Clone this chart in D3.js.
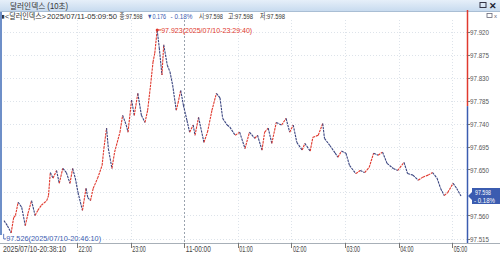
<!DOCTYPE html>
<html>
<head>
<meta charset="utf-8">
<script src="https://cdn.jsdelivr.net/npm/d3@7"></script>
<style>
  html, body { margin: 0; padding: 0; background: #fff; }
  svg { display: block; }
  text { font-family: "Liberation Sans", Arial, "Noto Sans CJK KR", sans-serif; }
</style>
</head>
<body>
<div id="chart"></div>
<script>
// 10-second dollar index
const times = [
  "20:38:10","20:42","20:46:10","20:49","20:51","20:54","20:58","21:02","21:05","21:09",
  "21:13","21:16","21:20","21:26","21:28","21:30","21:33","21:37","21:40","21:44",
  "21:48","21:52","21:55","21:58","22:01","22:06","22:10","22:12","22:15","22:18",
  "22:23","22:28","22:30","22:33","22:35","22:39","22:42","22:48","22:51","22:55",
  "22:57","23:01","23:04","23:08","23:12","23:16","23:19","23:22","23:25","23:27",
  "23:29:40","23:32","23:35","23:37","23:41","23:44","23:47","23:51","23:53","23:56",
  "23:59","00:03","00:06","00:10","00:12","00:16","00:22","00:26","00:31","00:36",
  "00:40","00:43","00:48","00:51","00:57","01:02","01:08","01:13","01:19","01:22",
  "01:27","01:30","01:34","01:38","01:43","01:49","01:54","01:58","02:02","02:06",
  "02:12","02:15","02:21","02:24","02:30","02:35","02:37","02:43","02:49","02:52",
  "02:56","03:01","03:05","03:12","03:17","03:22","03:27","03:32","03:37","03:42",
  "03:47","03:54","03:59","04:06","04:10","04:16","04:22","04:27","04:33","04:38",
  "04:43","04:47","04:51","04:55","05:01","05:05","05:09:50"
];
const prices = [
  97.550,97.540,97.526,97.556,97.560,97.586,97.576,97.540,97.564,97.589,
  97.560,97.570,97.580,97.589,97.599,97.644,97.633,97.648,97.623,97.652,
  97.644,97.623,97.652,97.633,97.605,97.570,97.613,97.595,97.589,97.613,
  97.633,97.658,97.691,97.731,97.691,97.652,97.684,97.723,97.756,97.737,
  97.723,97.786,97.756,97.799,97.756,97.742,97.766,97.811,97.860,97.878,
  97.923,97.888,97.835,97.894,97.854,97.841,97.815,97.766,97.780,97.805,
  97.776,97.746,97.723,97.737,97.717,97.752,97.703,97.723,97.766,97.799,
  97.790,97.750,97.737,97.733,97.717,97.723,97.691,97.723,97.711,97.717,
  97.688,97.723,97.731,97.701,97.742,97.737,97.750,97.723,97.737,97.703,
  97.688,97.701,97.686,97.713,97.717,97.740,97.711,97.697,97.682,97.674,
  97.686,97.682,97.658,97.642,97.648,97.644,97.654,97.682,97.678,97.684,
  97.662,97.652,97.648,97.664,97.642,97.639,97.629,97.635,97.639,97.644,
  97.633,97.613,97.599,97.605,97.623,97.613,97.598
];
const yTicks = [97.515, 97.560, 97.605, 97.650, 97.695, 97.740, 97.785, 97.830, 97.875, 97.920];
const hourTicks = ["22:00","23:00","00:00","01:00","02:00","03:00","04:00","05:00"];
const prevClose = 97.774;
const lastChange = "▼0.176";
const lastPct = "- 0.18%";

const W = 500, H = 254;
const plot = { left: 4, right: 467, top: 20, bottom: 243 };
const RED = '#e0392e', BLUE = '#3b5cb0', NAVY = '#3a4580';

// times after midnight belong to 07/11
function parseT(s) {
  const p = s.split(':').map(Number);
  const day = p[0] < 12 ? 11 : 10;
  return new Date(2025, 6, day, p[0], p[1], p[2] || 0);
}
const data = times.map((t, i) => ({ t: parseT(t), v: prices[i] }));

// squeeze text to the narrow width of the original font
function fit(sel, w) {
  return sel.attr('textLength', w).attr('lengthAdjust', 'spacingAndGlyphs');
}

const svg = d3.select('#chart').append('svg')
  .attr('width', W).attr('height', H);

const x = d3.scaleTime()
  .domain([data[0].t, data[data.length - 1].t])
  .range([plot.left, 461]);
const y = d3.scaleLinear()
  .domain([97.515, 97.920])
  .range([238.5, 31.5]);

// title bar
const grad = svg.append('defs').append('linearGradient')
  .attr('id', 'tb').attr('x1', 0).attr('x2', 0).attr('y1', 0).attr('y2', 1);
grad.append('stop').attr('offset', 0).attr('stop-color', '#e6eff9');
grad.append('stop').attr('offset', 1).attr('stop-color', '#c8dbef');
svg.append('rect').attr('x', 0).attr('y', 0).attr('width', W).attr('height', 11)
  .attr('fill', 'url(#tb)');
svg.append('line').attr('x1', 0).attr('x2', W).attr('y1', 11.5).attr('y2', 11.5)
  .attr('stroke', '#a9bed4');
fit(svg.append('text').attr('x', 10).attr('y', 9)
  .style('font-size', '8.5px').attr('fill', '#333')
  .text('달러인덱스 (10초)'), 58);
svg.append('rect').attr('x', 480).attr('y', 2.5).attr('width', 6).attr('height', 5)
  .attr('fill', 'none').attr('stroke', '#334').attr('stroke-width', 1);
svg.append('text').attr('x', 489).attr('y', 9)
  .style('font-size', '9px').style('font-weight', 'bold').attr('fill', '#223')
  .text('✕');

// info line
const infoParts = [
  ['■', 0.5, 4, '#333'],
  ['<달러인덱스>', 5, 41, '#333'],
  ['2025/07/11-05:09:50', 47, 70, '#333'],
  ['종:97.598', 119.5, 23, '#333'],
  [lastChange, 147, 19, BLUE],
  [lastPct, 170.5, 22, BLUE],
  ['시:97.598', 199, 24, '#333'],
  ['고:97.598', 228, 25, '#333'],
  ['저:97.598', 260, 25, '#333']
];
infoParts.forEach(([s, px, w, c]) => {
  fit(svg.append('text').attr('x', px).attr('y', 18.5)
    .style('font-size', '7.5px').attr('fill', c).text(s), w);
});
svg.append('rect').attr('x', 487).attr('y', 13.5).attr('width', 5).attr('height', 4)
  .attr('fill', 'none').attr('stroke', '#667').attr('stroke-width', 0.8);
svg.append('text').attr('x', 494).attr('y', 18)
  .style('font-size', '6px').attr('fill', '#667').text('x');

// grid
svg.append('g').selectAll('line').data(yTicks).join('line')
  .attr('x1', plot.left).attr('x2', plot.right)
  .attr('y1', d => Math.round(y(d)) + 0.5).attr('y2', d => Math.round(y(d)) + 0.5)
  .attr('stroke', '#dde3ea').attr('stroke-dasharray', '1,2');
svg.append('g').selectAll('line').data(hourTicks).join('line')
  .attr('x1', d => Math.round(x(parseT(d))) + 0.5).attr('x2', d => Math.round(x(parseT(d))) + 0.5)
  .attr('y1', plot.top).attr('y2', plot.bottom)
  .attr('stroke', d => d === '00:00' ? '#9aa3ae' : '#dde3ea')
  .attr('stroke-dasharray', d => d === '00:00' ? '2,2' : '1,2');

// left edge bar
svg.append('rect').attr('x', 0).attr('y', 12).attr('width', 2).attr('height', 223)
  .attr('fill', '#6e8fc8');

// price path: segments coloured by direction
const segs = d3.pairs(data);
svg.append('g').selectAll('line').data(segs).join('line')
  .attr('x1', d => x(d[0].t)).attr('y1', d => y(d[0].v))
  .attr('x2', d => x(d[1].t)).attr('y2', d => y(d[1].v))
  .attr('stroke', d => d[1].v >= d[0].v ? RED : NAVY)
  .attr('stroke-width', 1.1)
  .attr('stroke-dasharray', '2.5,0.8');

// right axis line: red above previous close, blue below
svg.append('line').attr('x1', plot.right + 0.5).attr('x2', plot.right + 0.5)
  .attr('y1', 10).attr('y2', y(prevClose)).attr('stroke', RED).attr('stroke-width', 1.5);
svg.append('line').attr('x1', plot.right + 0.5).attr('x2', plot.right + 0.5)
  .attr('y1', y(prevClose)).attr('y2', plot.bottom).attr('stroke', BLUE).attr('stroke-width', 1.5);

// current price badge position, labels under it are hidden
const last = data[data.length - 1];
const by = y(last.v);
const shownY = yTicks.filter(d => Math.abs(y(d) - by) > 9);

// y axis labels
const yAx = svg.append('g');
yAx.selectAll('line').data(shownY).join('line')
  .attr('x1', plot.right + 1).attr('x2', plot.right + 3)
  .attr('y1', d => Math.round(y(d)) + 0.5).attr('y2', d => Math.round(y(d)) + 0.5)
  .attr('stroke', '#777');
fit(yAx.selectAll('text').data(shownY).join('text')
  .attr('x', 470).attr('y', d => y(d) + 3)
  .style('font-size', '8px').attr('fill', '#555')
  .text(d => d3.format('.3f')(d)), 19);

// x axis
svg.append('line').attr('x1', 0).attr('x2', W).attr('y1', plot.bottom + 0.5).attr('y2', plot.bottom + 0.5)
  .attr('stroke', '#a8b0b8');
const xAx = svg.append('g');
xAx.selectAll('line').data(hourTicks).join('line')
  .attr('x1', d => Math.round(x(parseT(d))) + 0.5).attr('x2', d => Math.round(x(parseT(d))) + 0.5)
  .attr('y1', plot.bottom).attr('y2', plot.bottom + 5)
  .attr('stroke', '#777');
xAx.selectAll('text').data(hourTicks).join('text')
  .attr('x', d => x(parseT(d)) + 1.5).attr('y', 252)
  .style('font-size', '8.5px').attr('fill', '#444')
  .text(d => d === '00:00' ? '11-00:00' : d)
  .attr('textLength', d => d === '00:00' ? 25 : 13.5)
  .attr('lengthAdjust', 'spacingAndGlyphs');
fit(svg.append('text').attr('x', 3).attr('y', 252)
  .style('font-size', '8.5px').attr('fill', '#444')
  .text('2025/07/10-20:38:10'), 63);

// max / min annotations
const iMax = d3.maxIndex(data, d => d.v), iMin = d3.minIndex(data, d => d.v);
const pMax = data[iMax], pMin = data[iMin];
svg.append('circle').attr('cx', x(pMax.t)).attr('cy', y(pMax.v)).attr('r', 1.5).attr('fill', RED);
svg.append('line').attr('x1', x(pMax.t)).attr('x2', x(pMax.t) + 4)
  .attr('y1', y(pMax.v)).attr('y2', y(pMax.v)).attr('stroke', RED);
fit(svg.append('text').attr('x', x(pMax.t) + 4).attr('y', y(pMax.v) + 3)
  .style('font-size', '8px').attr('fill', RED)
  .text(`${pMax.v.toFixed(3)}(2025/07/10-23:29:40)`), 91);
svg.append('path')
  .attr('d', `M${x(pMin.t) - 7.5},${y(pMin.v) + 1} V${y(pMin.v) + 6} H${x(pMin.t) - 5}`)
  .attr('fill', 'none').attr('stroke', BLUE).attr('stroke-width', 0.8);
fit(svg.append('text').attr('x', x(pMin.t) - 5).attr('y', y(pMin.v) + 8)
  .style('font-size', '8px').attr('fill', BLUE)
  .text(`${pMin.v.toFixed(3)}(2025/07/10-20:46:10)`), 95);

// current price badge
svg.append('path')
  .attr('d', `M468,${by} L472,${by - 4} V${by - 8} H500 V${by + 8} H472 V${by + 4} Z`)
  .attr('fill', BLUE);
fit(svg.append('text').attr('x', 475).attr('y', by - 1)
  .style('font-size', '7.5px').attr('fill', '#fff').text(last.v.toFixed(3)), 16);
fit(svg.append('text').attr('x', 474).attr('y', by + 6.5)
  .style('font-size', '7.5px').attr('fill', '#fff').text(lastPct), 21);
</script>
</body>
</html>
